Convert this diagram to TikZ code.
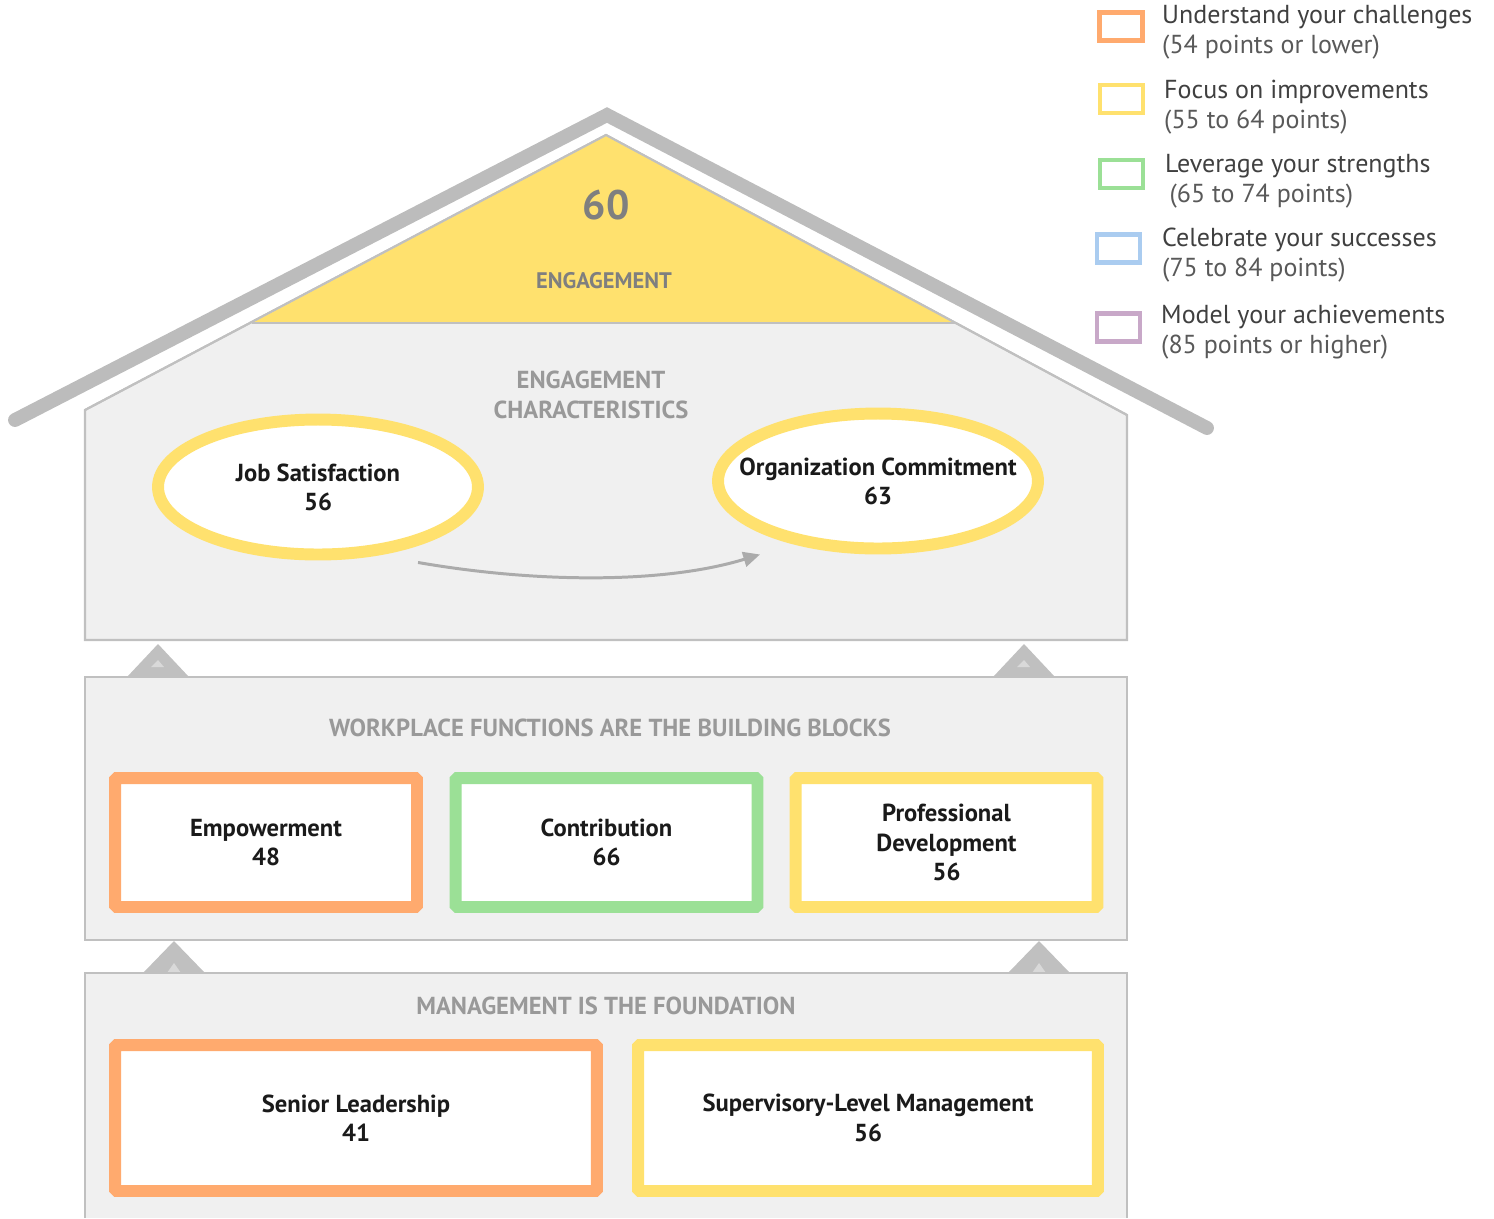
\documentclass[tikz,border=0pt]{standalone}
\usepackage{fontspec}
\setmainfont{PT Sans}
\usetikzlibrary{calc}
\usetikzlibrary{shapes}
\usetikzlibrary{arrows.meta}
\definecolor{hsorange}{HTML}{FFAA6E}
\definecolor{hsyellow}{HTML}{FFE16E}
\definecolor{hsgreen}{HTML}{9BE096}
\definecolor{hsblue}{HTML}{AACCF0}
\definecolor{hspurple}{HTML}{C8A8C8}
\definecolor{wallgray}{HTML}{F0F0F0}
\definecolor{edgegray}{HTML}{C0C0C0}
\definecolor{headgray}{HTML}{999999}
\definecolor{scoregray}{HTML}{7F7F7F}
\definecolor{inkgray}{HTML}{1A1A1A}

\begin{document}
\begin{tikzpicture}[x=0.02cm,y=-0.02cm,
    wall/.style={fill=wallgray,draw=edgegray,line width=1.2pt},
    heading/.style={text=headgray,font=\bfseries\fontsize{14}{17}\selectfont,align=center},
    trait/.style={ellipse,draw=hsyellow,fill=white,line width=6.8pt,minimum width=6.4cm,minimum height=2.7cm,inner xsep=-0.8cm,inner ysep=0pt,text=inkgray,font=\bfseries\fontsize{14}{16.5}\selectfont,align=center},
    scorebox/.style={draw=#1,fill=white,line width=6.8pt,rounded corners=1pt,inner sep=0pt,text=inkgray,font=\bfseries\fontsize{14}{16.8}\selectfont,align=center},
    keybox/.style={draw=#1,fill=white,line width=2.8pt,minimum width=0.86cm,minimum height=0.56cm,inner sep=0pt},
    keytext/.style={anchor=west,align=left,text=black!75,font=\fontsize{14.8}{17}\selectfont},
    lift/.style={fill=edgegray},
    liftcore/.style={fill=black!15}]
    \useasboundingbox (0,0) rectangle (1494,1218);

    % roof and attic
    \draw[edgegray!98!black,line width=7.9pt,line cap=round,line join=miter] (15,420) -- (607,115) -- (1207,428);
    \path[wall] (85,640) -- (85,410) -- (606,135) -- (1127,415) -- (1127,640) -- cycle;
    \path[fill=hsyellow] (252,323) -- (606,136) -- (957,323) -- cycle;
    \draw[edgegray,line width=1.2pt] (252,323) -- (957,323);
    \draw[edgegray,line width=1.2pt] (85,410) -- (606,135) -- (1127,415);
    \node[text=scoregray,font=\bfseries\fontsize{23.5}{26}\selectfont] (score) at (606,205) {60};
    \node[text=scoregray,font=\bfseries\fontsize{12.8}{14}\selectfont] (scorename) at (604,281) {ENGAGEMENT};
    \node[heading] (traits) at (591,395) {ENGAGEMENT\\CHARACTERISTICS};
    \node[trait] (js) at (318,487) {Job Satisfaction\\56};
    \node[trait] (oc) at (878,481) {Organization Commitment\\63};
    \coordinate (flowstart) at ($(js.south)+(100,2)$);
    \coordinate (flowend) at ($(oc.south)+(-118,0)$);
    \draw[black!33,line width=1.7pt,-{Triangle[length=9.5pt,width=8.5pt]}]
      (flowstart) .. controls (530,582) and (660,585) .. (flowend);

    % lifts between the floors
    \fill[lift] (127,677) -- (158,644) -- (189,677) -- cycle;
    \fill[liftcore] (151,667) -- (158,660) -- (164,667) -- cycle;
    \fill[lift] (993,677) -- (1024,644) -- (1055,677) -- cycle;
    \fill[liftcore] (1017,667) -- (1024,660) -- (1030,667) -- cycle;
    \fill[lift] (143,973) -- (174,941) -- (205,973) -- cycle;
    \fill[liftcore] (167,973) -- (174,963) -- (181,973) -- cycle;
    \fill[lift] (1008,973) -- (1039,941) -- (1070,973) -- cycle;
    \fill[liftcore] (1032,973) -- (1039,963) -- (1046,973) -- cycle;

    % workplace functions
    \path[wall] (85,677) rectangle (1127,940);
    \node[heading] (blocks) at (610,728) {WORKPLACE FUNCTIONS ARE THE BUILDING BLOCKS};
    \node[scorebox=hsorange,minimum width=6.04cm,minimum height=2.58cm] (emp) at (266,842.5) {Empowerment\\48};
    \node[scorebox=hsgreen,minimum width=6.04cm,minimum height=2.58cm] (con) at (606.5,842.5) {Contribution\\66};
    \node[scorebox=hsyellow,minimum width=6.04cm,minimum height=2.58cm] (pro) at (946.5,842.5) {Professional\\Development\\56};

    % management
    \fill[wallgray] (85,973) rectangle (1127,1218);
    \draw[edgegray,line width=1.2pt] (85,1218) -- (85,973) -- (1127,973) -- (1127,1218);
    \node[heading] (base) at (606,1006) {MANAGEMENT IS THE FOUNDATION};
    \node[scorebox=hsorange,minimum width=9.64cm,minimum height=2.92cm] (sen) at (356,1118) {Senior Leadership\\41};
    \node[scorebox=hsyellow,minimum width=9.2cm,minimum height=2.92cm] (sup) at (868,1118) {Supervisory-Level Management\\56};

    % legend
    \node[keybox=hsorange] (keylow) at (1121,26.5) {};
    \node[keytext] (keylowtext) at (1156,32) {Understand your challenges\\{\color{black!65}(54 points or lower)}};
    \node[keybox=hsyellow] (keymid) at (1121.5,99) {};
    \node[keytext] (keymidtext) at (1158,107) {Focus on improvements\\{\color{black!65}(55 to 64 points)}};
    \node[keybox=hsgreen] (keygood) at (1121.5,174) {};
    \node[keytext] (keygoodtext) at (1159,181.5) {Leverage your strengths\\{\color{black!65}\,(65 to 74 points)}};
    \node[keybox=hsblue] (keyhigh) at (1118.5,248.5) {};
    \node[keytext] (keyhightext) at (1156,255.5) {Celebrate your successes\\{\color{black!65}(75 to 84 points)}};
    \node[keybox=hspurple] (keytop) at (1118.5,327.5) {};
    \node[keytext] (keytoptext) at (1155,332.5) {Model your achievements\\{\color{black!65}(85 points or higher)}};
  \end{tikzpicture}
\end{document}
